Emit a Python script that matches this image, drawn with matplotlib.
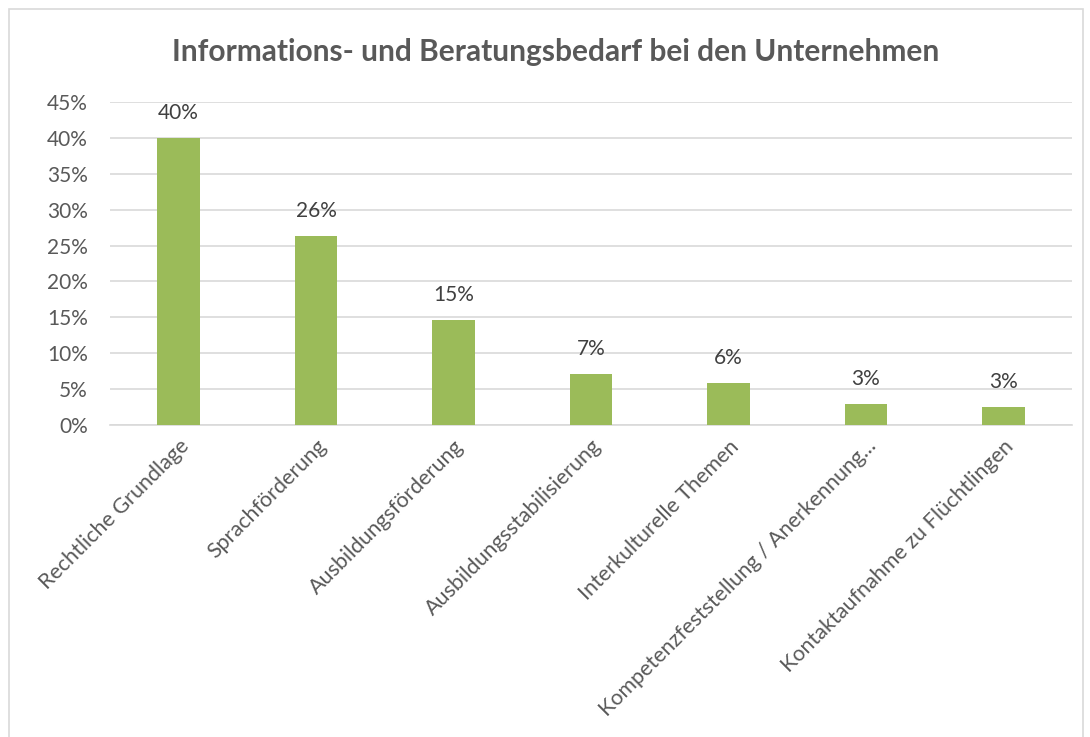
import matplotlib
matplotlib.use('Agg')
import matplotlib.pyplot as plt
from matplotlib.patches import Rectangle
from matplotlib.ticker import PercentFormatter

# ── Data ──────────────────────────────────────────
categories = [
    "Rechtliche Grundlage",
    "Sprachförderung",
    "Ausbildungsförderung",
    "Ausbildungsstabilisierung",
    "Interkulturelle Themen",
    "Kompetenzfeststellung / Anerkennung...",
    "Kontaktaufnahme zu Flüchtlingen",
]
shares = [40.0, 26.3, 14.6, 7.1, 5.8, 2.9, 2.5]
share_labels = ["40%", "26%", "15%", "7%", "6%", "3%", "3%"]
y_ticks = [0, 5, 10, 15, 20, 25, 30, 35, 40, 45]

TEXT = '#595959'
GREEN = '#9BBB59'
GRID = '#D9D9D9'

plt.rcParams['font.family'] = ['Lato', 'DejaVu Sans']

fig = plt.figure(figsize=(10.9, 7.37), dpi=100)
ax = fig.add_axes([0.1009, 0.4233, 0.8826, 0.4383])

x = range(len(categories))
bars = ax.bar(x, shares, width=0.31, color=GREEN, zorder=3)

for b, lab in zip(bars, share_labels):
    ax.annotate(lab, (b.get_x() + b.get_width() / 2, b.get_height()),
                xytext=(0, 11), textcoords='offset points',
                ha='center', va='bottom', fontsize=15, color='#404040')

ax.set_xlim(-0.5, len(categories) - 0.5)
ax.set_ylim(0, 45)
ax.set_yticks(y_ticks)
ax.yaxis.set_major_formatter(PercentFormatter(decimals=0))
ax.grid(axis='y', color=GRID, linewidth=1.2, zorder=0)
for s in ['top', 'right', 'left']:
    ax.spines[s].set_visible(False)
ax.spines['bottom'].set_color(GRID)
ax.spines['bottom'].set_linewidth(1.2)
ax.tick_params(axis='both', length=0, colors=TEXT)
ax.tick_params(axis='y', pad=16, labelsize=15)

ax.set_xticks(list(x))
ax.set_xticklabels(categories, rotation=45, ha='right', rotation_mode='anchor')
ax.tick_params(axis='x', pad=8, labelsize=15.5)

fig.text(0.51, 0.930, "Informations- und Beratungsbedarf bei den Unternehmen",
         ha='center', va='center', fontsize=21.5, fontweight='bold', color=TEXT)

# outer chart border
fig.patches.append(Rectangle((0.0083, -0.01), 0.985, 0.998, transform=fig.transFigure,
                             fill=False, edgecolor=GRID, linewidth=1.2))

fig.savefig('out.png', dpi=100)
